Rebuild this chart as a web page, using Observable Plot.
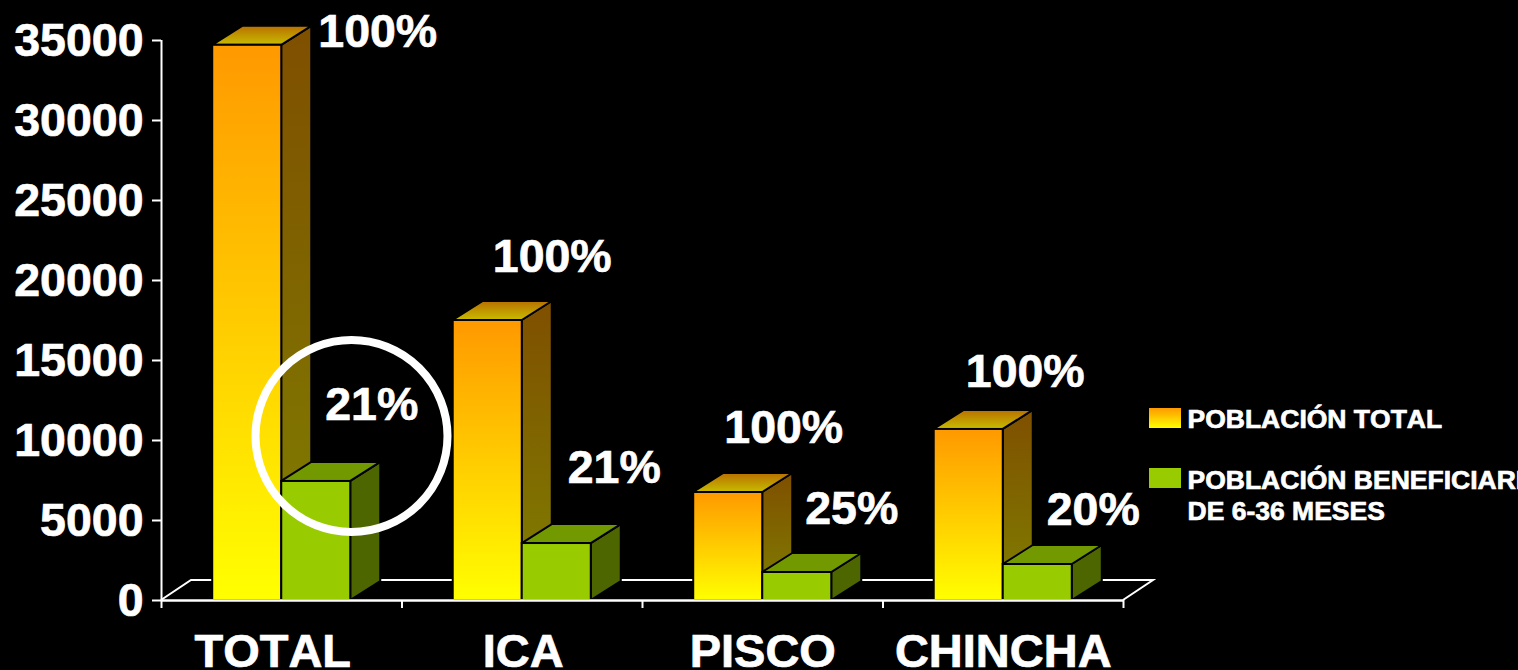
<!DOCTYPE html>
<html lang="es">
<head>
<meta charset="utf-8">
<title>Población total y beneficiaria</title>
<script src="https://cdn.jsdelivr.net/npm/d3@7"></script>
<script src="https://cdn.jsdelivr.net/npm/@observablehq/plot@0.6"></script>
<style>
  html, body { margin: 0; padding: 0; background: #000; overflow: hidden; }
  #chart svg { display: block; }
  #chart svg text { stroke: #fff; stroke-width: 0.7px; font-kerning: none; }
</style>
</head>
<body>
<div id="chart"></div>
<script>
// ---- data ----
const categories = ["TOTAL", "ICA", "PISCO", "CHINCHA"];
const poblacionTotal = [34700, 17500, 6750, 10690];
const poblacionBeneficiaria = [7440, 3560, 1750, 2250];
const pctTotal = ["100%", "100%", "100%", "100%"];
const pctBeneficiaria = ["21%", "21%", "25%", "20%"];
const yTicks = [0, 5000, 10000, 15000, 20000, 25000, 30000, 35000];
const legendLabels = ["POBLACIÓN TOTAL", "POBLACIÓN BENEFICIARIA", "DE 6-36 MESES"];

// ---- layout constants ----
const FONT = "'Liberation Sans', Arial, sans-serif";
const BAR = 0.287;           // bar width in group units
const DEPTH = [30, -19];     // 3-D extrusion in pixels
const FLOOR = [30, -20];
const pctTotalOffset = [[130, -13], [64, -63], [55, -64], [56, -57]];
const pctBenefOffset = [[56, -76], [58, -75], [55, -63], [56, -54]];
const catDx = [-9, 1, 0, 0];

const groups = categories.map((c, i) => ({c, i, mid: i + 0.5}));
const orange = groups.map(g => ({...g, x1: g.mid - BAR, x2: g.mid, v: poblacionTotal[g.i]}));
const green = groups.map(g => ({...g, x1: g.mid, x2: g.mid + BAR, v: poblacionBeneficiaria[g.i]}));

const poly = pts => "M" + pts.map(p => p.join(",")).join("L") + "Z";

// gradient definitions
function defs() {
  const g = d3.create("svg:defs");
  const grad = (id, stops) => {
    const lg = g.append("linearGradient").attr("id", id)
      .attr("x1", 0).attr("y1", 0).attr("x2", 0).attr("y2", 1);
    stops.forEach(([o, c]) => lg.append("stop").attr("offset", o).attr("stop-color", c));
  };
  grad("gradFront", [[0, "#ff9900"], [1, "#ffff00"]]);
  grad("gradSide", [[0, "#7f4f00"], [1, "#808000"]]);
  grad("gradTop", [[0, "#b87000"], [1, "#c8bc00"]]);
  return g.node();
}

// side and top faces of a set of bars, placed through the scales
function faces(data, sideFill, topFill) {
  return (index, {x, y}) => {
    const g = d3.create("svg:g").attr("stroke", "#000").attr("stroke-width", 2).attr("stroke-linejoin", "round");
    for (const d of data) {
      const xl = x(d.x1), xr = x(d.x2), yt = y(d.v), yb = y(0);
      g.append("path").attr("fill", sideFill)
        .attr("d", poly([[xr, yt], [xr + DEPTH[0], yt + DEPTH[1]], [xr + DEPTH[0], yb + DEPTH[1]], [xr, yb]]));
      g.append("path").attr("fill", topFill)
        .attr("d", poly([[xl, yt], [xl + DEPTH[0], yt + DEPTH[1]], [xr + DEPTH[0], yt + DEPTH[1]], [xr, yt]]));
    }
    return g.node();
  };
}

// floor parallelogram behind the bars
function floor(index, {x, y}) {
  const x0 = x(0), x1 = x(categories.length), y0 = y(0);
  return d3.create("svg:path")
    .attr("fill", "none").attr("stroke", "#fff").attr("stroke-width", 2)
    .attr("d", `M${x0},${y0}L${x0 + FLOOR[0]},${y0 + FLOOR[1]}L${x1 + FLOOR[0]},${y0 + FLOOR[1]}L${x1},${y0}`)
    .node();
}

// legend swatches, placed relative to the frame's right edge
function swatches(index, scales, values, {width}) {
  const g = d3.create("svg:g");
  [["url(#gradFront)", 408], ["#99cc00", 468]].forEach(([f, top]) =>
    g.append("rect").attr("x", width - 369).attr("y", top).attr("width", 32).attr("height", 20).attr("fill", f));
  return g.node();
}

const chart = Plot.plot({
  width: 1518,
  height: 670,
  marginLeft: 161,
  marginRight: 395,
  marginTop: 40,
  marginBottom: 70,
  style: {background: "#000", color: "#fff", fontFamily: FONT, overflow: "hidden"},
  x: {type: "linear", domain: [0, categories.length], axis: null},
  y: {type: "linear", domain: [0, 35000], axis: null},
  marks: [
    defs,
    floor,
    faces(orange, "url(#gradSide)", "url(#gradTop)"),
    Plot.rect(orange, {x1: "x1", x2: "x2", y1: 0, y2: "v", fill: "url(#gradFront)", stroke: "#000", strokeWidth: 2}),
    faces(green, "#4d6600", "#739900"),
    Plot.rect(green, {x1: "x1", x2: "x2", y1: 0, y2: "v", fill: "#99cc00", stroke: "#000", strokeWidth: 2}),
    Plot.ruleX([0], {y1: 0, y2: 35000, stroke: "#fff", strokeWidth: 2}),
    Plot.ruleY([0], {stroke: "#fff", strokeWidth: 2.5}),
    Plot.tickY(yTicks, {y: d => d, dx: 0, stroke: "none"}),
    Plot.axisY({
      ticks: yTicks, text: null, tickFormat: null, label: null, tickSize: 9,
      stroke: "#fff", strokeWidth: 2
    }),
    Plot.textY(yTicks, {
      y: d => d, x: () => 0, text: d => String(d), textAnchor: "end", lineAnchor: "middle", dx: -18, dy: 1,
      fill: "#fff", fontSize: 46.5, fontWeight: "bold", fontFamily: FONT
    }),
    Plot.axisX({
      ticks: d3.range(categories.length + 1), tickFormat: () => "", label: null, tickSize: 8,
      stroke: "#fff", strokeWidth: 2
    }),
    ...groups.map(g => Plot.text([g], {
      x: "mid", y: () => 0, text: "c", dx: catDx[g.i], dy: 51,
      fill: "#fff", fontSize: 47, fontWeight: "bold", fontFamily: FONT, lineAnchor: "middle"
    })),
    ...orange.map(d => Plot.text([d], {
      x: "mid", y: "v", text: () => pctTotal[d.i],
      dx: pctTotalOffset[d.i][0] - 34, dy: pctTotalOffset[d.i][1],
      fill: "#fff", fontSize: 46.5, fontWeight: "bold", fontFamily: FONT, lineAnchor: "middle"
    })),
    ...green.map(d => Plot.text([d], {
      x: "mid", y: "v", text: () => pctBeneficiaria[d.i],
      dx: pctBenefOffset[d.i][0] + 34, dy: pctBenefOffset[d.i][1],
      fill: "#fff", fontSize: 46.5, fontWeight: "bold", fontFamily: FONT, lineAnchor: "middle"
    })),
    Plot.dot([0], {x: () => 0.79, y: () => 10280, r: 96, fill: "none", stroke: "#fff", strokeWidth: 8}),
    swatches,
    ...legendLabels.map((t, i) => Plot.text([t], {
      frameAnchor: "top-right", text: d => d, textAnchor: "start",
      dx: 1187 - 1123, dy: [379, 440, 471][i],
      fill: "#fff", fontSize: 26.5, fontWeight: "bold", fontFamily: FONT, lineAnchor: "middle"
    }))
  ]
});
document.getElementById("chart").append(chart);
</script>
</body>
</html>
